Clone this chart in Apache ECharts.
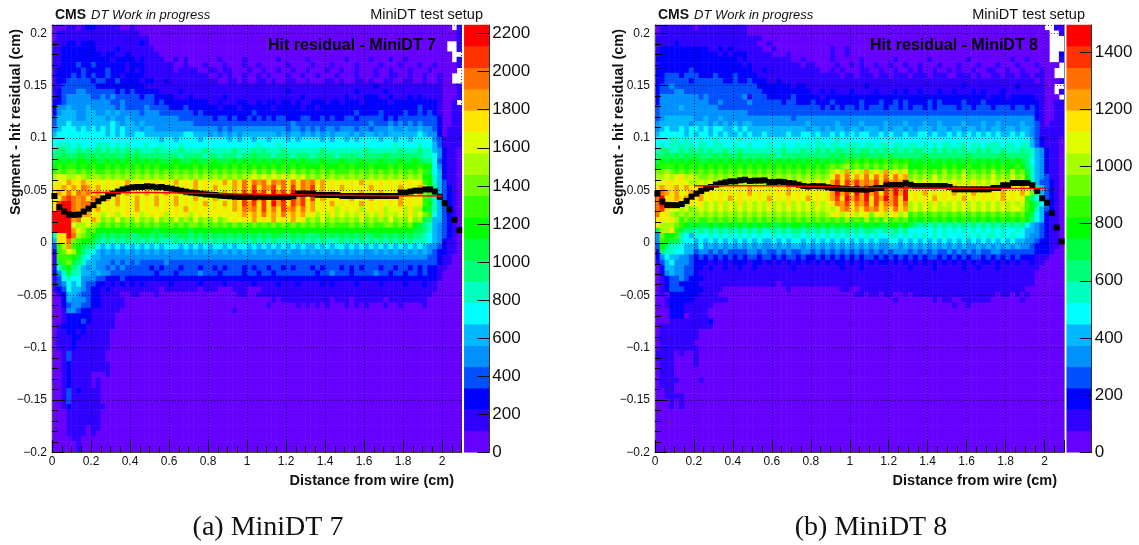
<!DOCTYPE html>
<html><head><meta charset="utf-8">
<style>html,body{margin:0;padding:0;background:#fff}#c{width:1139px;height:545px}</style>
<script src="https://cdn.jsdelivr.net/npm/echarts@6/dist/echarts.min.js"></script>
</head><body><div id="c"></div>
<script>
// Contour band per cell: a=band 0 ... t=band 19, '.'=empty cell. Rows run top to bottom, columns left to right.
// A row shorter than the axis, and any row not listed at the bottom, lies entirely in band 0 from there on.
const levelsA = [
"aaabbabccb bbbbaabaaa aaaaaaaaaa aaaaaaaaaa aaaaaaaaaa aaaaaaaaaa aaaaaaaaaa aaaaaaaaaa aa.b",
"abbbbbbbbb bbbbbbbbaa aaaaaaaaaa aaaaaaaaaa aaaaaaaaaa aaaaaaaaaa aaaaaaaaaa aaaaaaaaaa aaab",
"abbbbbbbbb bbbbbbbbbb aaaaaaaaaa aaaaaaaaaa aaaaaaaaaa aaaaaaaaaa aaaaaaaaaa aaaaaaaaaa aaab",
"bbbccbcccb bbbbbbbbcb aaaaaaaaaa aaaaaaaaaa aaaaaaaaaa aaaaaaaaaa aaaaaaaaaa aaaaaaaaaa a..b",
"bbcccccccb bbbcbbbbbb baaaaaaaaa aaaaaaaaaa aaaaaaaaaa aaaaaaaaaa aaaaaaaaaa aaaaaaaaaa a..b",
"bbcccccccc bccbbcbbbb bbaaaaaaaa aaaaaaaaaa aaaaaaaaaa aaaaaaaaaa aaaaaaaaaa aaaaaaaaaa aa..",
"bbcccccccc ccbccccbcb bbbaababaa aaaabaaaab aaaaaabaaa aabaaaaaaa baaaabaaab aabaaaaaaa aa.b",
"bbcccdccdc cccccbcccb bbbbbaabaa abaaabaaab aabaaaaaba aaabaaabaa aabaaaabaa abaaabaaba aaab",
"bcccccdccc cdcccbcbcb bbbbbabbbb aabbabbaaa baabaabaab aabaaabaab aabaaabaab aaabaaabaa aaa.",
"bcccdcdcdc cdccbccccb bbbbbbbbbb bbaababaab aababaaaba abaabaaaba aabaaabaab baabaabaab aa..",
"bccdddddcd dccdccccbc cbbcbbbbbb bbbbaabbab aabbabaabb aabaaabbab aabbabaabb aabbaabaab aa..",
"bbdddddddc cccccccccb bbbbbbbbbb bbbbbbbbbb bbbbbbbbbb bbbbbbbbbb bbbbbbcbbb bbbbbbbbbb aaab",
"bcdddeeddd dddcdcdccc ccbbbbcbbb bbbbbbbbbb bbbbbbbbcb bbbbbbbbbb bbcbbbbbcb bbbbbbbbbb aaab",
"bcdeeeeedd ededddddcd dccccbbbcb bbbbbcbbbb bbbbbbbbbb bcbbbbbbbb cbbbcccbbc bbbcbcbbbb aaab",
"ccdeeeeeee eeddeddddd dcdccccccc ccbbcbbbcc bbcbccbccb cbbcccbccb cccbcccccb cccccccccb aab.",
"ceefeeefee eeededddde ddddcccdcc ccccbcccbc cccccbcccc cbccbccccc cccccccccc cccccdcccb aabb",
"cefffeeffe efefeeeede eedddddddc dccccccccc cdcccccccc cccccccccc ccdccccdcc ccdccdcdcb aabb",
"dffffeefff fefeefeeee eeeeeedddd dddcddcdcc dcdcdcddcc cddccdcdcc ddcdddddcd cddddddddc aabb",
"dffgffffff ffgfeffefe eeeeeeeeed dddddddddd ddddddddde dddddddddd dddddeddde dedededddc aabb",
"efgggfgfgf gfgfgfffef feeeeeeeee eeeededeee eeeeeeeede edededeede eedeedeeef eefeefeedc abbb",
"fggggggggg gfgfgffggf fffffffggf ffefefefef ffffffefef fefefefeff fefeffefef fffffgfeec abbb",
"gggggggggg gggggggggg ggfggfgggg fgggggfgfg gfggfgggfg fggggfgfgg fgfggggfgg fggfgggged bbbb",
"ghhhghgggh hhghghgggh gghggghggg gggggggggg gghggghggg gggggggggg gggggggggg hgggghggfd bbbb",
"hiihhihihi hihihihihh hihhhhihhh hihhhhhihh hihihhhihh hhhhhihhhh hhhhihhhhh hihhhihhfe cbba",
"iijiijjiji jijiijijii iiiiiihiii ihiihiiihi ijiiihiiih iiihiiiihi iiihiiiiji iiiiiihhge cbba",
"jkjkjkkjkj jkjkjkjkjk jkjjjkjjjk jjjkjjjkjk jkjkjkjkjk jkjjjkjjjk jjjkjjjkjj jkjjkjiigd cbba",
"klkllklklk klklklklkl klkkklkkkl klkkklklkl klklklklkl klkkklkkkl klkkklkkkl klkkklkkge cbba",
"lmlmmlmlml lmlmlmlmlm lmlmlmlmlm lmlmlmlmlm lnlmlnlmln lmlmlmlmll lmlmlmlmlm lmlmlmljgf cbba",
"noonnonmnn mnmnmnmnmn mnmnmnmnmn mnmnmnmnmn nonononono nomnmnmnmn mnmnmnmnmn mnmnmnkkhf cbba",
"opoqppqpop opopoqopop opopoqopoq opopoqoqpr prqrprqrpr prqrpqopop opoqopopop opopoplkhf dbba",
"ppqpqprqpq opopoqopoq opoqopopoq opoqopoqpr psprqsprps prqsoqopoq opopoqopop oqopoqolif dcba",
"pqprprqrpq oqopoqopoq opoqopoqop oqopoqoqps ptqsptqspt qspsoqpqop opoqopoqop oqopoqmlif dcba",
"oprsrqrprq oqoqopoqop oqopoqopoq opoqopoqps ptqspsqtps qspsoqopop oqopoqopop oqopooljhf dcba",
"psttrqrrqp opoqopoqop oqopoqopop oqopoqoqps qspsptqsps qspqopoqop opoqopopop oqopoplkhf dcba",
"ptttrqrqpq opopopoqop opopopoqop opopopoqpr qrpsprpsqr prpqopopno popnopopno opnpnnkjhf dcba",
"ttttqrqqop nopnopopno popnopopno popopopopq pqprpqprpq pqopnonpno nonpnonpno nonpnomlgf dcba",
"ttttqrooqp mnmomnmomn momnmomnmo mnmomnopop oqopoqopoq opmnmomnmn mnmomnmnmo mnmomnjiff dcba",
"ttttonnonm lmlmlmlmlm lmllmlmlmm lmlmlmlmlm lmlmlmlmlm lmlmlmlmll lmlmlmllmm lmlmkjihfe dcba",
"ttttqonlmk kkkkkkkkkk kjkkkkkkjk kkkkkkkkkk kkkkkkkkkk kkkkkkkkkk kkkkkkkkkk kkkkjjihfe dcba",
"hpptrnmlkj ijijijiijj ijijiijjij ijijijijij ijijijjiij ijiiijijij ijijiijjij ijijiihgfe dcba",
"fpprmlkkji hihihihihi hihhhihihi hihihihihi hihihihhhi hihihihhhi hihihihihi hihihhhgfe cbba",
"dlnqlkjiig fgfgfgfgfg fgfgggfgfg fgfggfgfgg fgfgfgfgfg fgffgfgfgg fgfgfgfgfg fgfgfgfeed cbba",
"clmonkihgf efefefefef efefeeefef efefefefef efeefefefe efefefefef efefeefefe fefefefedc cbba",
"blllkjhgff eeeeeeeeee eeeeeeeeee eeeeeeeeee eeeeeeeeee eeeeeeeeee eeeeeeeeee eeeeeeeddc bbaa",
"bjlmjihffe eededededd dddedddddd dddddddddd dddddddddd dddddddddd dddddddddd dddddddddc bbaa",
"bhjkihfefe edededdddd cdcdddcddd cddcdcdddc dcddcddcdc dddcdcdddc dcdcdddcdd cddcdcdccb baaa",
"cehjhhffef eedddddddd dcdddcdddd edddcddddc ddcddcdddd ddddcddedd dcddddeddc ddcddcdccb aaaa",
"bdghggeeed dcccdccccc cccccccccc cccccccccc cccccccccc cccccccccc cccccccccc cccccccccb aaaa",
"bdegfgeddc cbcbcbcbcb bbbbcbbbbb cbbbbcbbbb bcbbbbcbbb cbbbbcbcbb bbcbbbbcbb bbcbbbcbba aaaa",
"bcdgffedcc bcbbbbbbbb bbabbbbbbb abbbaaabbb aaabbbbbbb bbbbbbbbbb bbbbbbbbbb bbbbbbbbba aaaa",
"abcffeddcc bbbbaabbaa abaaaaaaaa aaaaaaaabb aabbbbbbbb bbbbbbbbbb bbbbbbbbbb bbbbbbbbaa aaaa",
"aacfeeedcc bbbbbaaaaa aaaaaaaaaa aaaaaaaaaa aaaaababbb bbbbbbbabb babbbbbbab bbbbbbbaaa aaaa",
"aacdeeddcc bbbbbaaaaa aaaaaaaaaa aaaaaaaaaa aaaabaaaaa babababaaa bababaaaba abaaaabaaa aaaa",
"aabeedccbb bbbbaaaaaa aaaaaaaaaa aaaaaaabaa aaaaaaaaaa aaaaaaaaaa aaaaaaaaaa aaaaaaaaaa aaaa",
"aabcccccbb bbbaaaaaaa",
"aabcccdcbb bbbaaaaaaa",
"abcccccbbb bbbaaaaaaa",
"abbccbcbbb bbaaaaaaaa",
"abbbccbbbb bbaaaaaaaa",
"abbbcbbbbb bbaaaaaaaa",
"abbbcbbbbb bbaaaaaaaa",
"aabdbbbbbb baaaaaaaaa",
"aabdbbbbbb baaaaaaaaa",
"aabcbbbbbb bbaaaaaaaa",
"aabcbbbbbb bbaaaaaaaa",
"aabcbbbbaa abaaaaaaaa",
"aabcbbbbab aaaaaaaaaa",
"aabcbbbbab aaaaaaaaaa",
"aabdbcbbbb aaaaaaaaaa",
"aabdbbbbbb aaaaaaaaaa",
"aabdbbbbbb aaaaaaaaaa",
"aabcbbbbbb baaaaaaaaa",
"aaabbbbbbb aaaaaaaaaa",
"aaabbbbbbb aaaaaaaaaa",
"aaabbbbbbb aaaaaaaaaa",
"aaabbbbabb aaaaaaaaaa",
"aaabbbbaba aaaaaaaaaa",
"aaaabbaaaa",
"aaaaab",
"aaaaab",
"aaaaab"
];
const levelsB = [
"abbbbbbbab bbbbbbbbba aaaaaaaaaa aaaaaaaaaa aaaaaaaaaa aaaaaaaaaa aaaaaaaaaa aaaaaaaaaa ..bb",
"abbbbbbbbb bbbbbbbbba aaaaaaaaaa aaaaaaaaaa aaaaaaaaaa aaaaaaaaaa aaaaaaaaaa aaaaaaaaaa a..b",
"bbbbbbbbbb bbbbbbbbbb bbaaaaaaaa aaaaaaaaaa aaaaaaaaaa aaaaaaaaaa aaaaaaaaaa aaaaaaaaaa a...",
"bbbbcbbbbb bbbbbbbbbb baabaaaaaa aaaaaaaaaa aaaaaaaaaa aaaaaaaaaa aaaaaaaaaa aaaaaaaaaa a...",
"bccccccccc cbbcbcbbbb bbaabaaaaa aaaaaabaab aaaaaaaaaa aaaaaaaaaa aaaaaaaaaa aaaaaaaaaa a...",
"bccccccccc cccbcbcccb bbbbaaabaa aaaaaabaab aaaaaaaaaa aaaaaaaaaa aaaaaaaaaa aaaaaaaaaa a..c",
"cccccccccc cccccccbcb bbbbbbbbaa baaaaabaaa aabaaaaaab aaaaaabaaa aaaabaaaaa aaabaabaaa a..b",
"bccccccccc ccccccccbc bbbbbbbbbb abbaaaabaa babaabaaba abaabaaaba aabaaabaaa baaabaaaba aaa.",
"cccccccdcc cccccccccc bbcbbbbbbb bbbbaababa aabbaabaab aababaabaa babaabaabb aabaabaaab aa..",
"ccdddcdddc ccdcccdccc cbbbbbbbbb bbbbbbbbab babbbabbab bbabbbabbb aabbbabaab babbabbabb aa..",
"ccdddddcdd ddddccdccd cccbbcbbbb bbbbbbbbbb bbbbbbbbbb bbbbbbbbbb bbbbbbbbbb bbbbbbbbab aaab",
"cddedddddd dddddddddd dcccccccbc cbbbbbbbbb bbbcbbbbbb bbbbbbbbbb bbbcbbbbbb bbbbcbbbbb aa..",
"cdddeedddd dddddddddd ddcccccccc ccbbcbcbbb cbbbbcbbbc bcbbcbbbcb bcbbbcbcbb bcbbbbbbbb aa.b",
"ceeeeeeeed edddddddeb dddcccccdc ccccbccccc cccccccccc cccccccccc ccccccccbc ccbcccccbb aaa.",
"ceeeeeeeee eddeddddde ddddddcddc ccdcccdccc ccdcccdccd cdccccdcdc cccdcccdcc cccccccccb aabb",
"deeeefeeee eeeddddddd dddddddddd ddddcdcdcd dcdcdddcdd cdcddcdcdd ddcddcdddc dddcddcdcb aabb",
"deeeeeeeee eeeeeeeeed dddddddddd dddddddddd dddddddddd dddddddddd dddddddddd ddddddddcb aabb",
"deffffffee feefeeeeee eeeeeeeede eeeeeeeeee eeeeeeeeee eeeeeeeeee eeeeeeeeee eeeeeeeecb aabb",
"effffffeff fefefefeff eeeeeeeeee efeeeeefee eefeeeefee efeeefeefe eeefeeefee feeeefeedb abbb",
"efgffgfggf gfggffgfgf ffffffffff feffefeffe ffefffefef fefefffeff effeffefef feffeffedb bbbb",
"fgggggfgfg gfgfgffgfg ffgffffgff ggfgffgfgf gfggffgfgf fgffggfgff gfgfgfgfgf gffgfgfedb bbbb",
"ggghhghggh gghgggghgg gggggggggg ggghggghgg gggggggggg gggggggggg gggggggggg gggggggfdc bbba",
"ghghhhhhgh hghhgghggh ggghgghggh ghghhghhgh hhghhghhgh hghhghghgh hghhghhghh hghhghhfdc bbba",
"hiihhihihi hihhihhihh hhhhhhihhh ihhihihiih ihiihihihi hihiihhihi hihihhihih hihhhihhfe cbba",
"iijijijiji iijijiijii iiiiihiiii iiiiiijiji jijjiijiji iiiiijiiii iiiijiiiii ijiiiiihfe cbba",
"jkjkjkjkkj jkjkjkjkjk jkjkjkjkjk jkjkjkjkjl klklklklkl klkjkjkjkj kjkjkjkjkj kjkjkjigfe cbba",
"klllklklkl klklklklkl klklklklkl klklklmlmn lmlmlmlmlm lmkkklkkkl klkklkklkl klkklkihfe cbba",
"mmnmlmlmlm lmlmlmlmlm lmlmlmlmlm lmlmlmnpnq npnqnpnqnp nplmlmlmln lmlnlmlmln lmlnlmjhfe cbba",
"nnonopnonm mnmnmnmnmn mnmnmnmnmn mnmnmnorpr oqprorpror pqmnmnmomn mnmomnmnmo mnmomnkhfe dbba",
"ooppoponno nonpnonpno nonpnonpno nonpnoqsps qsqrqspsqr qsnonpnono npnonpnono npnonokhfd dcba",
"pqppqoqpoq oponopopoq oponopoqop oponopqtqs ptqsqtqsqt qsopopoqop oqopopopoq opopoqomif dcba",
"rrqpqopqpq opopopopoq opopopoqop opopopqtqs ptqtqspsqt qtopoqopop oqopoqopop oqopoqomif dcba",
"rtppqpqppq opopoqopop opoqopopop oqopopqspt qsqtpsqtqs ptopopoqop opoqopopop oqopopligd dcba",
"rtqpponpop nonpnonpno nonpnonpno nonpnoprqs prqspsprqs prnonpnpno nonpnonono npnonolkig dcba",
"rspoonomno nonononono nonononono nonononoqr pqprqrpqpr pqnonononn nonononono nonoonlkhf dcba",
"ropnmnmnmn mnmnmnmnmn mnmnmnmnmn mnmnmnopno pnopmopnop nolmlmlmlm lmlmlmlmlm lmlmlmkjgf cbba",
"ppopnlmlml lmlmlmlmlm lmlmlmlmlm lmlmlmlmln lmlnlmlnlm lmklklklkl klklklklkl klklklkigf cbba",
"pnnnmlkjkj jkjkjkjkjk jkjkjjkjkk jkjkjkjkjk jkjkjkjjkk jkjihihihi hihihihihi hihihigfed cbba",
"jnnpljiihi hihihihihi hihhihihii hihihihihi hihiihhihi higgggghgh ghghghghgh ghgghgffed cbba",
"emkklhgfhg ghghghghgh ghgghghghh ghghghghgh ghghghgghh ghghghghgh gggghghghh ghghggfeed cbba",
"elkjjhggfg fgfgfgfgfg fgffgfgfgg fgfgfgfgfg fgfgfgffgg fgfgfgfgfg fgfgfgfgfg fgfgffeedc cbba",
"dkihhgffeg efefefefef efeefefeff efefefefef efefefeeff efefefefef efefeefefe fefefeedcc cbba",
"cihhggffde edededddde ededdededd eedededede dedededede eededededde dedededdee dddddddccc baaa",
"cegffeedcd cdcdcdcdcd dcddcdcddc dccdcdcdcd cdcddcdcdc dcdcdcddcd cdcdcddcdc dcdcdcccbb baaa",
"bdfgeeedcc cbcbcbcccb ccbcbcbcbc bcbcbcbccb cbcbcbccbc bcbcbcbcbc bcbcbcbccb cbcbcbbcbb aaaa",
"acffeeddcc bcbbcbbcbb cbbbbbbbcb bbbbbbbbcb bbcbbbbbbb bbcbbbbcbb bbbcbbcbbb cbbbbbbbba aaaa",
"acefeeddcb bbbbbbbbbb bbbbbbbbbb bbbbbbbbbb bbbbbbbbbb bbbbbbbbbb bbbbbbbbbb bbbbbbbbaa aaaa",
"abcddedccc bbbbbbbbbb bbbbbbbbbb bbbbbbbbbb bbbbbbbbbb bbbbbbbbbb bbbbbbbbbb bbbbbbbbaa aaaa",
"abcddccccb bbbbbbbbbb bbbbbabbbb bbbbbbbbbb bbbbbbbbbb bbbbbbbbbb bbbbbbbbbb bbbbbbbbaa aaaa",
"abcdddcccc bbbbaaaaaa aaaaaaabaa aaaaaaaabb aabbbbbbbb bbbbbbbbbb bbbbbbbbbb bbbbbbaaaa aaaa",
"abaccccccb bbbaaaaaaa aaaaaaaaaa aaaaaaaaaa abbabbabba ababbbbbbb bbbbbbbbbb abbababaaa aaaa",
"aabcccccbb bbbbbaaaaa aaaaaaaaaa aaaaaaaaaa aaaaaaaaab aaaaaaabab baabbbbbba aaaaabaaaa aaaa",
"aabcccbbbb bbaaaaaaaa aaaaaaaaaa aaaaaaaaaa aaaaaaaaaa aaaaaaaaaa abaabaaaaa aaaaaaaaaa aaaa",
"aaacccbbbb baaaaaaaaa",
"aaacccabbb baaaaaaaaa",
"aaabbbbbbb bcaaaaaaaa",
"abbbbbbbbb bbaaaaaaaa",
"abbbbbbbba aaaaaaaaaa",
"abbbbbbbba aaaaaaaaaa",
"abbbbbbbaa aaaaaaaaaa",
"abbbbbbbba aaaaaaaaaa",
"bbbbabaaba aaaaaaaaaa",
"bbbbaaaaba aaaaaaaaaa",
"abbbaaaaba aaaaaaaaaa",
"abbbaaaaaa",
"abbbaaaaaa",
"abbbbaaaab",
"abbbaaaaaa",
"aabbaaaaaa",
"aabbbbaaaa",
"aaababaaaa",
"aaababaaaa"
];
const meansA = [.0447,.034,.0298,.027,.0267,.027,.0298,.0327,.036,.0397,.0425,.0447,.047,.049,.051,.052,.053,.0533,.0533,.054,.0537,.053,.0533,.0524,.0517,.0508,.0498,.0489,.048,.0476,.047,.0463,.046,.0457,.045,.0447,.0444,.044,.0438,.0438,.0438,.0438,.044,.0438,.0438,.0438,.0438,.0438,.0438,.0445,.047,.047,.047,.047,.0458,.0457,.0457,.0457,.0457,.0447,.0447,.0447,.0447,.0447,.0447,.0447,.0447,.0447,.0447,.0447,.0447,.048,.048,.049,.0498,.0498,.051,.051,.049,.044,.0378,.032,.022,.012];
const meansB = [.047,.0394,.036,.036,.036,.0371,.04,.0441,.047,.0495,.0517,.0533,.0556,.0568,.0578,.0587,.0587,.0597,.0603,.059,.0594,.0594,.0597,.058,.058,.0584,.058,.0571,.0568,.0556,.0543,.0537,.0543,.054,.054,.053,.0524,.052,.0517,.0514,.0511,.0511,.0508,.0508,.0514,.0524,.0524,.0548,.0552,.0552,.0552,.0568,.0555,.0543,.0543,.0543,.0543,.0543,.0543,.0543,.0533,.0511,.0511,.0511,.0511,.0511,.0511,.0511,.0511,.0524,.0524,.055,.055,.0571,.0571,.0571,.0571,.055,.0495,.0425,.0384,.0283,.0146,.0013];
const fitX = [.2,.3,.4,.5,.6,.7,.8,.9,1,1.1,1.2,1.3,1.4,1.5,1.6,1.7,1.8,1.9,2];
const fitA = [.048,.048,.048,.048,.0478,.0475,.0472,.0468,.0465,.0462,.046,.0458,.0456,.0454,.0452,.045,.0449,.0448,.0447];
const fitB = [.0545,.0545,.0545,.0545,.0545,.0542,.0538,.0534,.053,.0527,.0525,.0523,.0522,.0521,.0521,.052,.052,.052,.052];
const palette = ['#6600ff','#3000ff','#0000ff','#0050ff','#0090ff','#00b8ff','#00ffff','#00ffc0','#00ff78','#00ff40','#00ff00','#30ff00','#70ff00','#a8ff00','#dfff00','#ffe600','#ffa000','#ff7000','#ff3300','#ff0000'];
const maxA = 2245, maxB = 1495;
const xMax = 2.1, yMin = -0.2, yMax = 0.208;
const nCols = 84, nRows = 80;

const FONT = 'Liberation Sans';
const gridTop = 25, gridH = 427.3;
const cats = n => Array.from({length:n},(_,i)=>i);
function cells(rows, zmax){
  const band = zmax/20, out=[];
  for(let r=0;r<nRows;r++){
    const s = (rows[r]||'').replace(/ /g,'').padEnd(nCols,'a').slice(0,nCols);
    for(let c=0;c<nCols;c++){
      if(s[c]==='.') continue;
      out.push([c, nRows-1-r, (s.charCodeAt(c)-97+0.5)*band]);
    }
  }
  return out;
}
const barCells = zmax => palette.map((_,i)=>[0,i,(i+0.5)*zmax/20]);
const pieces = zmax => palette.map((color,i)=>({min:i*zmax/20,max:(i+1)*zmax/20,color}));
const hiddenCat = (gridIndex,n)=>({type:'category',gridIndex,data:cats(n),show:false,boundaryGap:true});
const fmt = v => String(+v.toFixed(2)).replace('-','\u2212');
const dotted = {color:'#000',type:[1,2],width:1,opacity:0.7};
const valX = gridIndex => ({type:'value',gridIndex,min:0,max:xMax,interval:0.2,position:'bottom',z:3,
  axisLine:{show:true,onZero:false,lineStyle:{color:'#444',width:1}},
  axisTick:{show:true,inside:true,length:12,lineStyle:{color:'#000',width:1}},
  minorTick:{show:true,splitNumber:4,length:6,lineStyle:{color:'#000',width:1}},
  splitLine:{show:true,lineStyle:dotted},
  axisLabel:{fontFamily:FONT,fontSize:12,color:'#111',margin:3,showMaxLabel:false,formatter:fmt}});
const valY = gridIndex => ({type:'value',gridIndex,min:yMin,max:yMax,interval:0.05,position:'left',z:3,
  axisLine:{show:true,onZero:false,lineStyle:{color:'#555',width:1}},
  axisTick:{show:true,inside:true,length:12,lineStyle:{color:'#000',width:1}},
  minorTick:{show:true,splitNumber:5,length:6,lineStyle:{color:'#000',width:1}},
  splitLine:{show:true,lineStyle:dotted},
  axisLabel:{fontFamily:FONT,fontSize:12,color:'#111',margin:5,showMaxLabel:false,formatter:fmt}});
const valBar = (gridIndex,zmax) => ({type:'value',gridIndex,min:0,max:zmax,interval:200,position:'right',z:3,
  axisLine:{show:true,onZero:false,lineStyle:{color:'#333',width:1}},
  axisTick:{show:true,inside:true,length:12,lineStyle:{color:'#111',width:1}},
  splitLine:{show:false},
  axisLabel:{fontFamily:FONT,fontSize:17,color:'#111',margin:3,showMaxLabel:false,formatter:v=>String(v)}});
const txt = (x,y,text,o={}) => ({type:'text',x,y,rotation:o.rot||0,z:20,style:{text,x:0,y:0,
  fontFamily:o.family||FONT,fontSize:o.size||14,fontWeight:o.weight||'normal',fontStyle:o.style||'normal',
  fill:o.fill||'#111',align:o.align||'left',verticalAlign:'middle'}});
const heat = (name,xi,yi,data) => ({type:'heatmap',name,xAxisIndex:xi,yAxisIndex:yi,data,z:2,progressive:0,animation:false,
  itemStyle:{borderWidth:0},emphasis:{disabled:true}});
const pts = (xs,ys)=>xs.map((x,i)=>[x,ys[i]]);
const colCentres = cats(nCols).map(c=>(c+0.5)*xMax/nCols);

const option = {
  animation:false,
  backgroundColor:'#fff',
  grid:[
    {left:52,top:gridTop,width:409.7,height:gridH,containLabel:false},
    {left:464.3,top:gridTop,width:25,height:gridH},
    {left:655,top:gridTop,width:409,height:gridH},
    {left:1066.7,top:gridTop,width:25,height:gridH}
  ],
  xAxis:[hiddenCat(0,nCols),valX(0),hiddenCat(1,1),hiddenCat(2,nCols),valX(2),hiddenCat(3,1)],
  yAxis:[hiddenCat(0,nRows),valY(0),hiddenCat(1,20),valBar(1,maxA),
         hiddenCat(2,nRows),valY(2),hiddenCat(3,20),valBar(3,maxB),
         {type:'value',gridIndex:2,min:yMin,max:yMax,position:'right',z:3,axisLabel:{show:false},axisTick:{show:false},splitLine:{show:false},
          axisLine:{show:true,onZero:false,lineStyle:{color:'#888',width:1}}}],
  visualMap:[
    {type:'piecewise',show:false,dimension:2,seriesIndex:[0,1],pieces:pieces(maxA)},
    {type:'piecewise',show:false,dimension:2,seriesIndex:[2,3],pieces:pieces(maxB)}
  ],
  series:[
    heat('MiniDT 7',0,0,cells(levelsA,maxA)),
    heat('scale 7',2,2,barCells(maxA)),
    heat('MiniDT 8',3,4,cells(levelsB,maxB)),
    heat('scale 8',5,6,barCells(maxB)),
    {type:'scatter',name:'mean 7',xAxisIndex:1,yAxisIndex:1,data:pts(colCentres,meansA),symbol:'rect',symbolSize:6,itemStyle:{color:'#000',opacity:1},z:4,animation:false},
    {type:'line',name:'fit 7',xAxisIndex:1,yAxisIndex:1,data:pts(fitX,fitA),showSymbol:false,smooth:false,lineStyle:{color:'#ff0000',width:1.4},z:5,animation:false},
    {type:'scatter',name:'mean 8',xAxisIndex:4,yAxisIndex:5,data:pts(colCentres,meansB),symbol:'rect',symbolSize:6,itemStyle:{color:'#000',opacity:1},z:4,animation:false},
    {type:'line',name:'fit 8',xAxisIndex:4,yAxisIndex:5,data:pts(fitX,fitB),showSymbol:false,smooth:false,lineStyle:{color:'#ff0000',width:1.4},z:5,animation:false}
  ],
  graphic:[
    txt(55,15,'CMS',{weight:'bold',size:14}), txt(91,15.5,'DT Work in progress',{style:'italic',size:13}),
    txt(483,15,'MiniDT test setup',{align:'right',size:14.5}),
    txt(268,46,'Hit residual - MiniDT 7',{weight:'bold',size:16,fill:'#000'}),
    txt(16,122,'Segment - hit residual (cm)',{weight:'bold',size:14.5,align:'center',rot:Math.PI/2}),
    txt(454,481,'Distance from wire (cm)',{weight:'bold',size:14.5,align:'right'}),
    txt(268,528,'(a) MiniDT 7',{family:'Liberation Serif',size:28,align:'center'}),

    txt(658,15,'CMS',{weight:'bold',size:14}), txt(694,15.5,'DT Work in progress',{style:'italic',size:13}),
    txt(1085,15,'MiniDT test setup',{align:'right',size:14.5}),
    txt(870,46,'Hit residual - MiniDT 8',{weight:'bold',size:16,fill:'#000'}),
    txt(619,122,'Segment - hit residual (cm)',{weight:'bold',size:14.5,align:'center',rot:Math.PI/2}),
    txt(1057,481,'Distance from wire (cm)',{weight:'bold',size:14.5,align:'right'}),
    txt(871,528,'(b) MiniDT 8',{family:'Liberation Serif',size:28,align:'center'})
  ]
};
const chart = echarts.init(document.getElementById('c'),null,{renderer:'canvas'});
chart.setOption(option);
</script></body></html>
